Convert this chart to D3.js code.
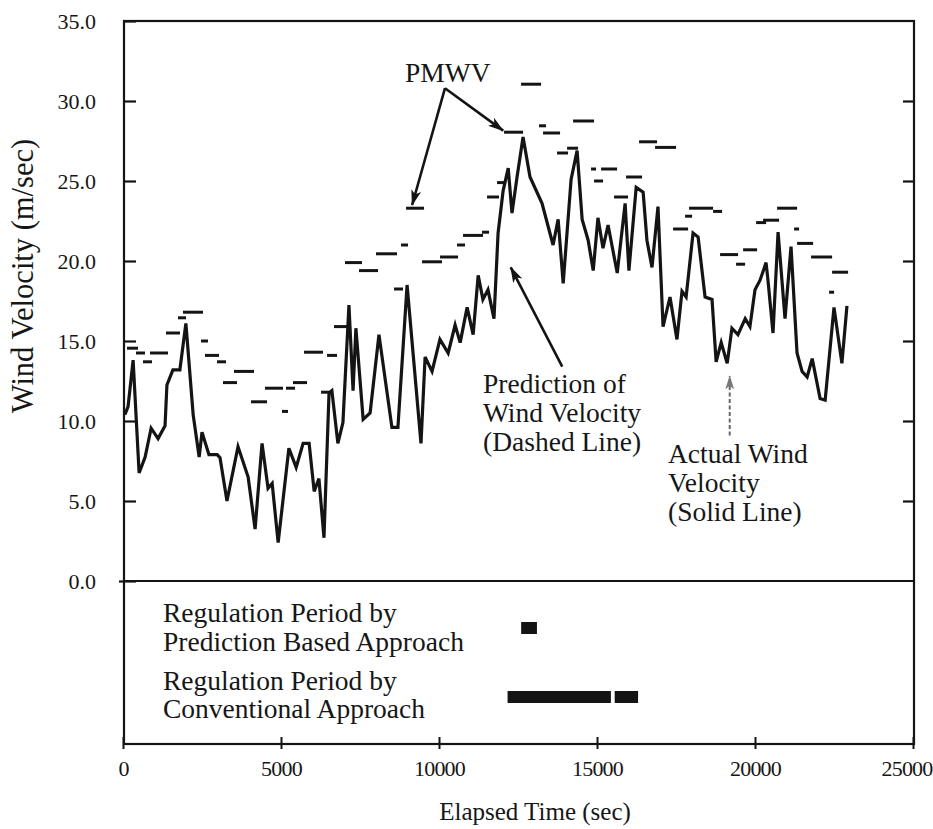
<!DOCTYPE html>
<html>
<head>
<meta charset="utf-8">
<script src="https://cdn.jsdelivr.net/npm/d3@7/dist/d3.min.js"></script>
<style>
  html, body { margin: 0; padding: 0; background: #ffffff; }
  svg { display: block; }
  text { font-family: "Liberation Serif", "Times New Roman", serif; fill: #161616; }
</style>
</head>
<body>
<svg id="chart" width="933" height="829"></svg>
<script>
// ---------------- DATA ----------------
// Actual wind velocity (solid line): [elapsed time (sec), velocity (m/sec)]
const actualWind = [
  [60,10.4],[160,10.9],[320,13.8],[510,6.75],[700,7.75],[890,9.55],[1110,8.9],[1330,9.7],
  [1390,12.25],[1580,13.2],[1800,13.2],[1990,16.1],[2220,10.4],[2410,7.75],[2500,9.3],[2720,7.9],
  [2980,7.9],[3070,7.7],[3290,5.0],[3640,8.4],[3960,6.5],[4180,3.25],[4400,8.6],[4590,5.8],
  [4720,6.1],[4910,2.4],[5250,8.3],[5480,7.1],[5700,8.6],[5890,8.6],[6050,5.6],[6200,6.4],
  [6360,2.7],[6520,11.75],[6610,11.9],[6800,8.6],[6960,9.9],[7150,17.25],[7280,11.9],[7370,15.8],
  [7600,10.1],[7820,10.5],[8100,15.4],[8510,9.6],[8700,9.6],[8990,18.5],[9430,8.6],[9560,14.0],
  [9780,13.1],[10030,15.1],[10290,14.25],[10510,16.0],[10670,14.9],[10890,17.1],[11080,15.4],[11240,19.1],
  [11390,17.6],[11550,18.2],[11740,16.4],[11870,21.75],[12030,24.4],[12190,25.8],[12310,23.0],[12470,25.25],
  [12660,27.75],[12880,25.25],[13260,23.6],[13610,21.0],[13770,22.6],[13930,18.6],[14180,25.1],[14370,26.9],
  [14530,22.6],[14720,21.3],[14880,19.4],[15030,22.7],[15190,20.8],[15350,22.25],[15640,19.25],[15890,23.6],
  [16010,19.4],[16240,24.6],[16460,24.3],[16580,21.3],[16740,19.6],[16930,23.4],[17090,15.9],[17310,17.75],
  [17530,15.1],[17690,18.1],[17820,17.75],[18040,21.75],[18200,21.5],[18420,17.75],[18640,17.6],[18770,13.7],
  [18930,14.9],[19120,13.6],[19270,15.8],[19460,15.4],[19690,16.4],[19840,15.9],[20000,18.2],[20160,18.8],
  [20350,19.9],[20410,18.8],[20570,15.5],[20730,21.8],[20950,16.4],[21140,20.9],[21330,14.25],[21490,13.1],
  [21650,12.75],[21810,13.9],[22060,11.4],[22220,11.3],[22500,17.1],[22750,13.6],[22910,17.2]
];

// PMWV segments: start time, end time, value
const pmwvStart = [127,411,633,855,1361,1741,1899,2469,2595,2975,3165,3513,4051,4494,5032,5159,5380,5729,6267,6457,
  6678,7026,7469,8007,8577,8799,8957,9463,10033,10571,10761,11362,11521,11837,12059,12597,13166,13293,13736,14053,
  14243,14812,14907,15129,15540,15920,16331,16838,17408,17787,17914,18674,18895,19401,19623,20035,20256,20699,21237,21332,
  21775,22345,22440];
const pmwvEnd = [475,696,918,1424,1804,1994,2532,2690,3038,3260,3608,4146,4558,5064,5222,5444,5824,6330,6552,6773,
  7121,7564,8071,8672,8862,9020,9527,10096,10603,10824,11394,11584,11900,12090,12660,13230,13388,13831,14084,14401,
  14907,14970,15192,15635,15983,16426,16901,17502,17882,18009,18674,18958,19465,19686,20066,20351,20762,21332,21395,21839,
  22440,22503,22946];
const pmwvValue = [14.55,14.25,13.7,14.25,15.5,16.45,16.8,15.0,14.1,13.7,12.4,13.1,11.2,12.05,10.6,12.05,12.4,14.3,11.8,14.1,
  15.9,19.9,19.4,20.45,18.25,21.0,23.3,19.95,20.25,21.0,21.6,21.8,24.0,24.9,28.05,31.05,28.45,28.0,26.75,27.05,
  28.75,25.75,25.0,25.75,24.0,25.25,27.45,27.1,22.0,22.8,23.3,23.1,20.4,19.8,20.7,22.4,22.55,23.3,22.0,21.1,
  20.25,18.05,19.3];

// Regulation periods (sec)
const regulationRows = ["Prediction Based Approach", "Conventional Approach"];
const predictionPeriods = [[12600, 13100]];
const conventionalPeriods = [[12170, 15440], [15560, 16300]];

// Axis ticks
const yTicks = [0, 5, 10, 15, 20, 25, 30, 35];
const xTicks = [0, 5000, 10000, 15000, 20000, 25000];

// ---------------- LAYOUT ----------------
const svg = d3.select("#chart");
const ink = "#141414";
const pLeft = 123, pRight = 913, pTop = 21, pMid = 581, pBottom = 744;

const x = d3.scaleLinear().domain([0, 25000]).range([pLeft, pRight]);
const y = d3.scaleLinear().domain([0, 35]).range([pMid, pTop]);
const rowY = d3.scalePoint().domain(regulationRows).range([628, 697]);

// Frame
svg.append("rect")
  .attr("x", pLeft + 1).attr("y", pTop).attr("width", pRight - pLeft).attr("height", pBottom - pTop)
  .attr("fill", "none").attr("stroke", ink).attr("stroke-width", 2.2);
svg.append("line")
  .attr("x1", pLeft + 1).attr("x2", pRight + 1).attr("y1", y(0)).attr("y2", y(0))
  .attr("stroke", ink).attr("stroke-width", 2.2);

// Left axis
const gy = svg.append("g").attr("transform", `translate(${pLeft + 1},0)`)
  .call(d3.axisLeft(y).tickValues(yTicks).tickFormat(d3.format(".1f")).tickSizeInner(-12).tickSizeOuter(0).tickPadding(28));
gy.select(".domain").remove();
gy.selectAll(".tick line").attr("stroke", ink).attr("stroke-width", 2.2);
gy.selectAll(".tick").filter(d => d === 0).select("line").attr("x1", -5);
gy.selectAll(".tick text").attr("font-size", 22).attr("fill", ink)
  .attr("font-family", "Liberation Serif, serif");

// Right axis ticks
const gr = svg.append("g").attr("transform", `translate(${pRight + 1},0)`)
  .call(d3.axisRight(y).tickValues(yTicks.slice(1, -1)).tickFormat("").tickSizeInner(-11).tickSizeOuter(0));
gr.select(".domain").remove();
gr.selectAll(".tick line").attr("stroke", ink).attr("stroke-width", 2.2);

// Bottom axis
const gx = svg.append("g").attr("transform", `translate(0,${pBottom})`)
  .call(d3.axisBottom(x).tickValues(xTicks).tickFormat(d3.format("d")).tickSizeInner(-7).tickSizeOuter(0).tickPadding(16));
gx.select(".domain").remove();
gx.selectAll(".tick line").attr("stroke", ink).attr("stroke-width", 2).attr("y1", 5);
gx.selectAll(".tick text").attr("font-size", 22).attr("fill", ink)
  .attr("font-family", "Liberation Serif, serif").attr("letter-spacing", -0.8);
gx.selectAll(".tick").filter(d => d === 25000).select("text")
  .attr("text-anchor", "end").attr("x", 19);

// Axis titles
svg.append("text").attr("x", (x(0) + x(25000)) / 2 + 17).attr("y", 820)
  .attr("text-anchor", "middle").attr("font-size", 25).text("Elapsed Time (sec)");
svg.append("text").attr("transform", "translate(33,276) rotate(-90)")
  .attr("text-anchor", "middle").attr("font-size", 30.5).text("Wind Velocity (m/sec)");

// Actual wind velocity line
svg.append("path").datum(actualWind)
  .attr("fill", "none").attr("stroke", ink).attr("stroke-width", 3.2).attr("stroke-linejoin", "miter")
  .attr("d", d3.line().x(d => x(d[0])).y(d => y(d[1])));

// PMWV dashes
const pmwv = pmwvStart.map((s, i) => ({ s, e: pmwvEnd[i], v: pmwvValue[i] }));
svg.append("g").selectAll("line").data(pmwv).join("line")
  .attr("x1", d => x(d.s)).attr("x2", d => x(d.e))
  .attr("y1", d => y(d.v)).attr("y2", d => y(d.v))
  .attr("stroke", ink).attr("stroke-width", 3);

// Regulation bars
const bars = [
  ...predictionPeriods.map(p => ({ row: regulationRows[0], p })),
  ...conventionalPeriods.map(p => ({ row: regulationRows[1], p }))
];
svg.append("g").selectAll("rect").data(bars).join("rect")
  .attr("x", d => x(d.p[0])).attr("width", d => x(d.p[1]) - x(d.p[0]))
  .attr("y", d => rowY(d.row) - 6).attr("height", 12)
  .attr("fill", ink);

// Lower panel labels
const lowerLabels = [
  ["Regulation Period by", 622], ["Prediction Based Approach", 651],
  ["Regulation Period by", 690], ["Conventional Approach", 718]
];
svg.append("g").selectAll("text").data(lowerLabels).join("text")
  .attr("x", 163).attr("y", d => d[1]).attr("font-size", 27.5).text(d => d[0]);

// Annotations
const defs = svg.append("defs");
defs.append("marker").attr("id", "head").attr("viewBox", "0 0 16 10")
  .attr("refX", 15).attr("refY", 5).attr("markerWidth", 16).attr("markerHeight", 10)
  .attr("markerUnits", "userSpaceOnUse").attr("orient", "auto")
  .append("path").attr("d", "M0,0 L16,5 L0,10 L4,5 Z").attr("fill", ink);
defs.append("marker").attr("id", "headGrey").attr("viewBox", "0 0 16 10")
  .attr("refX", 15).attr("refY", 5).attr("markerWidth", 14).attr("markerHeight", 9)
  .attr("markerUnits", "userSpaceOnUse").attr("orient", "auto")
  .append("path").attr("d", "M0,0 L16,5 L0,10 L4,5 Z").attr("fill", "#777");

// PMWV label and arrows
svg.append("text").attr("x", 405).attr("y", 82).attr("font-size", 27.5).text("PMWV");
const apex = [x(10190), y(30.8)];
[[9150, 23.5], [12030, 28.15]].forEach(tgt => {
  svg.append("line").attr("x1", apex[0]).attr("y1", apex[1])
    .attr("x2", x(tgt[0])).attr("y2", y(tgt[1]))
    .attr("stroke", ink).attr("stroke-width", 2.6).attr("marker-end", "url(#head)");
});

// Prediction arrow + text
svg.append("line").attr("x1", x(13900)).attr("y1", y(13.4))
  .attr("x2", x(12270)).attr("y2", y(19.6))
  .attr("stroke", ink).attr("stroke-width", 2.6).attr("marker-end", "url(#head)");
const predText = [["Prediction of", 393], ["Wind Velocity", 422], ["(Dashed Line)", 451]];
svg.append("g").selectAll("text").data(predText).join("text")
  .attr("x", 483).attr("y", d => d[1]).attr("font-size", 27.5).text(d => d[0]);

// Actual arrow + text
svg.append("line").attr("x1", x(19200)).attr("y1", y(9.1))
  .attr("x2", x(19200)).attr("y2", y(12.8))
  .attr("stroke", "#666").attr("stroke-width", 2).attr("stroke-dasharray", "4,2.5")
  .attr("marker-end", "url(#headGrey)");
const actText = [["Actual Wind", 463], ["Velocity", 492], ["(Solid Line)", 521]];
svg.append("g").selectAll("text").data(actText).join("text")
  .attr("x", 668).attr("y", d => d[1]).attr("font-size", 27.5).text(d => d[0]);
</script>
</body>
</html>
